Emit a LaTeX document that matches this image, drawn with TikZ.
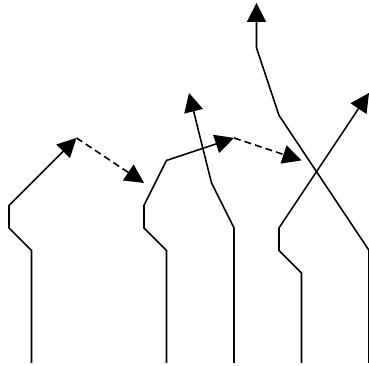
\documentclass[tikz,border=0pt]{standalone}
\usetikzlibrary{arrows.meta}

\begin{document}
\begin{tikzpicture}[
    x=0.5cm, y=0.5cm,
    track/.style={
        line width=1pt,
        -{Triangle[length=4.2mm, width=4.2mm]},
    },
    hop/.style={
        track,
        dash pattern=on 4.4pt off 2.6pt,
    },
]
\useasboundingbox (-0.4,-0.13) rectangle (16,16.13);

% ===== Strand A =====
\coordinate (a0) at (1,0);
\coordinate (a1) at (1,5);
\coordinate (a2) at (0,6);
\coordinate (a3) at (0,7);
\coordinate (a4) at (3,10);

% ===== Strand B =====
\coordinate (b0) at (7,0);
\coordinate (b1) at (7,5);
\coordinate (b2) at (6,6);
\coordinate (b3) at (6,7);
\coordinate (b4) at (7,9);
\coordinate (b5) at (10,10);
\coordinate (bin) at (6,8);

% ===== Strand C =====
\coordinate (c0) at (10,0);
\coordinate (c1) at (10,6);
\coordinate (c2) at (9,8);
\coordinate (c3) at (8,12);

% ===== Strand D =====
\coordinate (d0) at (13,0);
\coordinate (d1) at (13,4);
\coordinate (d2) at (12,5);
\coordinate (d3) at (12,6);
\coordinate (d4) at (16,12);
\coordinate (din) at (13,9);

% ===== Strand E =====
\coordinate (e0) at (16,0);
\coordinate (e1) at (16,5);
\coordinate (e2) at (12,11);
\coordinate (e3) at (11,14);
\coordinate (e4) at (11,16);

% ===== Strands =====
\draw[track] (a0) -- (a1) -- (a2) -- (a3) -- (a4);
\draw[track] (b0) -- (b1) -- (b2) -- (b3) -- (b4) -- (b5);
\draw[track] (c0) -- (c1) -- (c2) -- (c3);
\draw[track] (d0) -- (d1) -- (d2) -- (d3) -- (d4);
\draw[track] (e0) -- (e1) -- (e2) -- (e3) -- (e4);

% ===== Hops =====
\draw[hop] (a4) -- (bin);
\draw[hop] (b5) -- (din);

\end{tikzpicture}
\end{document}
